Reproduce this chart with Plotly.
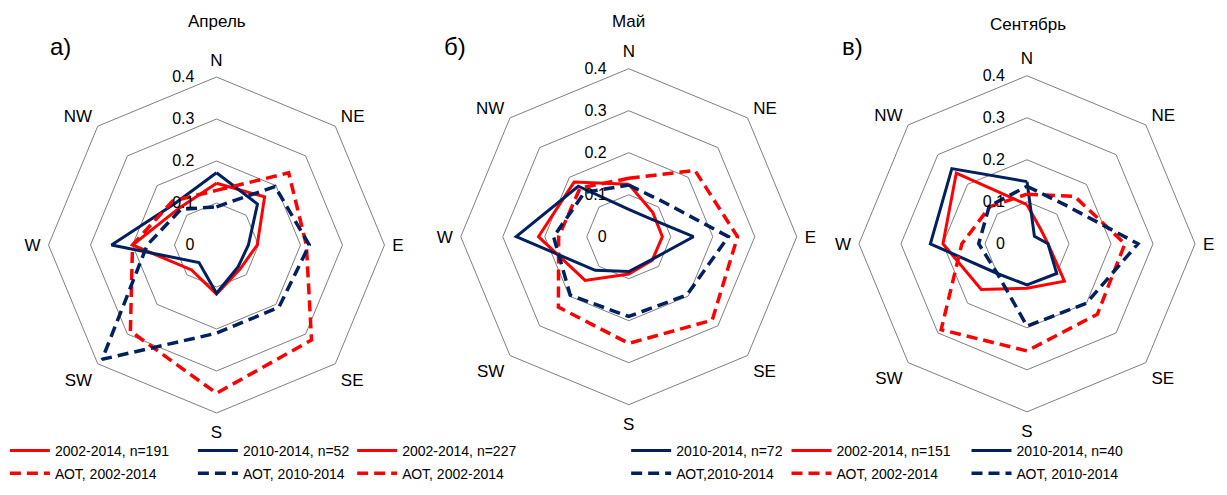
import plotly.graph_objects as go

# Wind direction sectors (clockwise from north)
directions = ["N", "NE", "E", "SE", "S", "SW", "W", "NW"]
radial_ticks = [0, 0.1, 0.2, 0.3, 0.4]
radial_labels = ["0", "0.1", "0.2", "0.3", "0.4"]

# April
apr_all = [0.147, 0.162, 0.097, 0.080, 0.117, 0.084, 0.200, 0.125]
apr_recent = [0.172, 0.138, 0.076, 0.073, 0.115, 0.059, 0.250, 0.140]
apr_aot_all = [0.130, 0.243, 0.214, 0.320, 0.353, 0.290, 0.200, 0.148]
apr_aot_recent = [0.091, 0.197, 0.221, 0.210, 0.210, 0.385, 0.165, 0.120]

# May
may_all = [0.125, 0.081, 0.080, 0.079, 0.089, 0.147, 0.215, 0.184]
may_recent = [0.065, 0.064, 0.154, 0.077, 0.083, 0.113, 0.268, 0.170]
may_aot_all = [0.139, 0.223, 0.259, 0.281, 0.254, 0.237, 0.167, 0.164]
may_aot_recent = [0.123, 0.117, 0.237, 0.196, 0.190, 0.197, 0.179, 0.149]

# September
sep_all = [0.093, 0.047, 0.050, 0.126, 0.106, 0.154, 0.200, 0.238]
sep_recent = [0.148, 0.025, 0.050, 0.100, 0.098, 0.100, 0.230, 0.253]
sep_aot_all = [0.118, 0.160, 0.233, 0.237, 0.255, 0.289, 0.155, 0.125]
sep_aot_recent = [0.137, 0.130, 0.264, 0.200, 0.196, 0.100, 0.115, 0.127]

months = ["Апрель", "Май", "Сентябрь"]
panel_letters = ["а)", "б)", "в)"]
series_names = [
    ["2002-2014, n=191", "2010-2014, n=52", "АОТ, 2002-2014", "АОТ, 2010-2014"],
    ["2002-2014, n=227", "2010-2014, n=72", "АОТ, 2002-2014", "АОТ,2010-2014"],
    ["2002-2014, n=151", "2010-2014, n=40", "АОТ, 2002-2014", "АОТ, 2010-2014"],
]
series_values = [
    [apr_all, apr_recent, apr_aot_all, apr_aot_recent],
    [may_all, may_recent, may_aot_all, may_aot_recent],
    [sep_all, sep_recent, sep_aot_all, sep_aot_recent],
]

RED = "#FF0000"
NAVY = "#002060"
GRID = "#7F7F7F"
FONT = "Liberation Sans"

styles = [
    dict(color=RED, dash="solid", width=3),
    dict(color=NAVY, dash="solid", width=3),
    dict(color=RED, dash="11px,6px", width=3.5),
    dict(color=NAVY, dash="11px,6px", width=3.5),
]

# polar domains (paper fractions)
domains = [
    dict(x=[0.0395, 0.3134], y=[0.1657, 0.8444]),
    dict(x=[0.3755, 0.6494], y=[0.1824, 0.8612]),
    dict(x=[0.7000, 0.9740], y=[0.1680, 0.8470]),
]
centers_x = [216.5, 628.8, 1027.7]

# legend rows: x of first sample, item spacing, paper y of each row
legend_x = [0.004, 0.287, 0.641]
legend_entry_w = [133, 219, 125]
legend_rows_y = [0.089, 0.043]

fig = go.Figure()
layout = {}
for p in range(3):
    pid = "polar" if p == 0 else f"polar{p + 1}"
    for s in range(4):
        vals = series_values[p][s]
        leg_idx = 2 * p + (0 if s < 2 else 1)
        leg_id = "legend" if leg_idx == 0 else f"legend{leg_idx + 1}"
        fig.add_trace(go.Scatterpolar(
            r=vals + vals[:1],
            theta=directions + directions[:1],
            mode="lines",
            name=series_names[p][s],
            line=dict(color=styles[s]["color"], dash=styles[s]["dash"],
                      width=styles[s]["width"]),
            subplot=pid,
            legend=leg_id,
            hoverinfo="skip",
        ))
    layout[pid] = dict(
        domain=domains[p],
        gridshape="linear",
        bgcolor="white",
        radialaxis=dict(
            range=[0, 0.4],
            tickvals=radial_ticks,
            ticktext=radial_labels,
            angle=90,
            tickangle=90,
            side="counterclockwise",
            showline=False,
            ticks="outside",
            ticklen=16,
            tickcolor="rgba(0,0,0,0)",
            gridcolor=GRID,
            gridwidth=1,
            tickfont=dict(family=FONT, size=16, color="black"),
        ),
        angularaxis=dict(
            direction="clockwise",
            rotation=90,
            showgrid=False,
            showline=True,
            linecolor=GRID,
            linewidth=1,
            ticks="outside",
            ticklen=4,
            tickcolor="rgba(0,0,0,0)",
            tickfont=dict(family=FONT, size=17, color="black"),
        ),
    )

for i in range(6):
    leg_id = "legend" if i == 0 else f"legend{i + 1}"
    layout[leg_id] = dict(
        x=legend_x[i // 2],
        y=legend_rows_y[i % 2],
        xanchor="left",
        yanchor="middle",
        orientation="h",
        entrywidth=legend_entry_w[i // 2],
        entrywidthmode="pixels",
        itemwidth=40,
        bgcolor="rgba(0,0,0,0)",
        font=dict(family=FONT, size=14, color="black"),
        tracegroupgap=0,
    )

annotations = []
title_y = [22, 22, 25]
for p in range(3):
    annotations.append(dict(
        text=months[p], x=centers_x[p] / 1227, y=1 - title_y[p] / 495,
        xref="paper", yref="paper", showarrow=False,
        font=dict(family=FONT, size=17, color="black"),
        xanchor="center", yanchor="middle",
    ))
letter_x = [60, 455, 852]
for p in range(3):
    annotations.append(dict(
        text=panel_letters[p], x=letter_x[p] / 1227, y=1 - 46 / 495,
        xref="paper", yref="paper", showarrow=False,
        font=dict(family=FONT, size=24, color="black"),
        xanchor="center", yanchor="middle",
    ))

fig.update_layout(
    width=1227,
    height=495,
    margin=dict(l=0, r=0, t=0, b=0),
    paper_bgcolor="white",
    plot_bgcolor="white",
    showlegend=True,
    annotations=annotations,
    **layout,
)

fig.write_html("out.html")
